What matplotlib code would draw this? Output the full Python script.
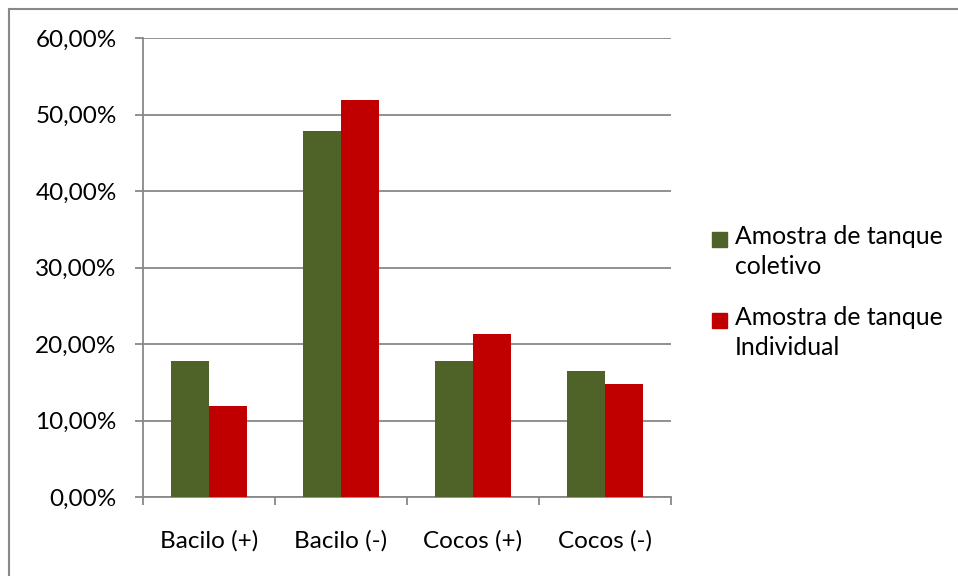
import matplotlib
matplotlib.use("Agg")
import matplotlib.pyplot as plt
from matplotlib.lines import Line2D
from matplotlib.patches import Rectangle
from matplotlib.ticker import FuncFormatter, MultipleLocator
import numpy as np

categories = ['Bacilo (+)', 'Bacilo (-)', 'Cocos (+)', 'Cocos (-)']
coletivo = [17.8, 47.8, 17.8, 16.5]
individual = [11.9, 51.9, 21.3, 14.8]
series_names = ['Amostra de tanque\ncoletivo', 'Amostra de tanque\nIndividual']
colors = ['#4F6228', '#C00000']

plt.rcParams['font.family'] = ['Lato', 'DejaVu Sans']

fig = plt.figure(figsize=(9.58, 5.76), dpi=100)
W, H = 958, 576
ax = fig.add_axes([143 / W, 1 - 497 / H, 528 / W, 459 / H])

x = np.arange(len(categories))
w = 0.285
ax.bar(x - w / 2, coletivo, w, color=colors[0], zorder=3)
ax.bar(x + w / 2, individual, w, color=colors[1], zorder=3)

ax.set_xlim(-0.5, len(categories) - 0.5)
ax.set_ylim(0, 60)
ax.yaxis.set_major_locator(MultipleLocator(10))
ax.yaxis.set_major_formatter(FuncFormatter(lambda v, p: f'{v:.2f}%'.replace('.', ',')))
ax.grid(axis='y', color='#888888', linewidth=1.3, zorder=0)

ax.set_xticks(x)
ax.set_xticklabels(categories)
ax.set_xticks(np.arange(-0.5, len(categories)), minor=True)
ax.tick_params(axis='x', which='major', length=0, pad=24, labelsize=17.5)
ax.tick_params(axis='x', which='minor', length=6, width=1.3, color='#888888')
ax.tick_params(axis='y', length=6, width=1.3, color='#888888', labelsize=17.5, pad=13)

for s in ['top', 'right']:
    ax.spines[s].set_visible(False)
for s in ['left', 'bottom']:
    ax.spines[s].set_color('#888888')
    ax.spines[s].set_linewidth(1.3)

# legend drawn by hand so the square sits on the first text line
for i, (name, c) in enumerate(zip(series_names, colors)):
    top = 232 + i * 81
    fig.add_artist(Rectangle((712 / W, 1 - (top + 15) / H), 15 / W, 15 / H,
                             color=c, transform=fig.transFigure))
    fig.text(735 / W, 1 - (top - 7) / H, name, fontsize=17.8, va='top', ha='left',
             linespacing=1.35)

# outer chart border (only left and top visible in the crop)
fig.add_artist(Line2D([8.5 / W, 8.5 / W], [0, 1 - 8.5 / H], color='#888888', lw=1.5))
fig.add_artist(Line2D([8.5 / W, 1], [1 - 8.5 / H, 1 - 8.5 / H], color='#888888', lw=1.5))

fig.savefig('out.png', dpi=100)
